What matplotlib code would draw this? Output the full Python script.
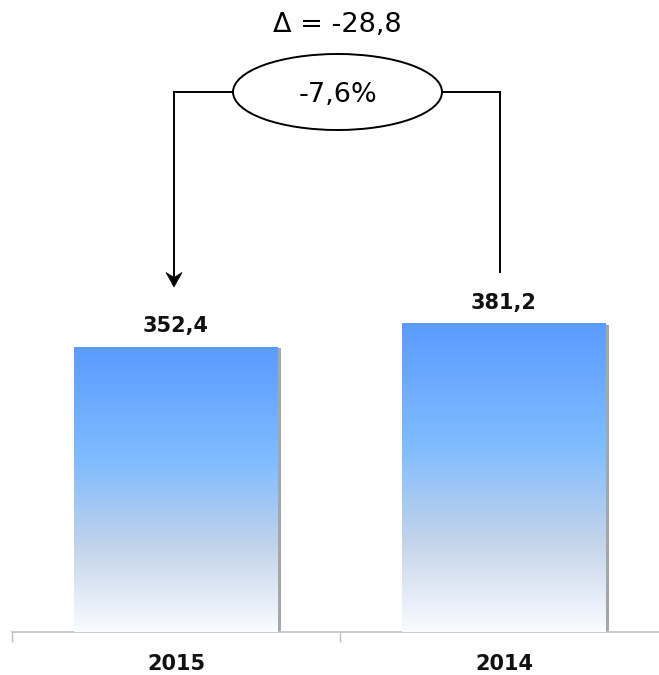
import matplotlib
matplotlib.use("Agg")
import matplotlib.pyplot as plt
import numpy as np
from matplotlib.colors import LinearSegmentedColormap
from matplotlib.patches import Ellipse, Polygon
import matplotlib.patheffects as pe
import matplotlib.transforms as mtransforms

categories = ["2015", "2014"]
values = [352.4, 381.2]
value_labels = ["352,4", "381,2"]
delta_label = "\u0394 = -28,8"
pct_label = "-7,6%"

W, H, DPI = 659, 675, 100
fig = plt.figure(figsize=(W / DPI, H / DPI), dpi=DPI)
base_px = 632
x0_px, x1_px = 12, 668
ax = fig.add_axes([x0_px / W, (H - base_px) / H, (x1_px - x0_px) / W, base_px / H])
ymax = base_px / 0.808
ax.set_xlim(-0.5, 1.5)
ax.set_ylim(0, ymax)

cmap = LinearSegmentedColormap.from_list(
    "grad",
    [(0.0, "#5b9bff"), (0.40, "#80bcff"), (0.70, "#c2d3ea"), (1.0, "#fafcff")],
)
grad = np.linspace(0, 1, 256).reshape(-1, 1)

x = np.arange(len(categories))
bars = ax.bar(x, values, width=0.62, color="white", edgecolor="none", zorder=2)
for b in bars:
    b.set_path_effects([pe.SimplePatchShadow(offset=(2.5, -0.5), shadow_rgbFace="#808080", alpha=0.7), pe.Normal()])
    bx, bw, bh = b.get_x(), b.get_width(), b.get_height()
    ax.imshow(grad, cmap=cmap, extent=(bx, bx + bw, 0, bh), aspect="auto",
              origin="upper", zorder=3, interpolation="bilinear")
ax.set_xlim(-0.5, 1.5)
ax.set_ylim(0, ymax)

for xi, v, lab in zip(x, values, value_labels):
    ax.annotate(lab, (xi, v), xytext=(0, 8), textcoords="offset points",
                ha="center", va="bottom", fontsize=15, fontweight="bold", color="#111111")

# axis styling
for s in ["top", "right", "left"]:
    ax.spines[s].set_visible(False)
ax.spines["bottom"].set_color("#c0c0c0")
ax.spines["bottom"].set_linewidth(1.2)
ax.set_yticks([])
ax.set_xticks(x)
ax.set_xticklabels(categories, fontsize=15, fontweight="bold", color="#111111")
ax.tick_params(axis="x", which="major", length=0, pad=16)
ax.set_xticks([-0.5, 0.5, 1.5], minor=True)
ax.tick_params(axis="x", which="minor", length=7, color="#c0c0c0", width=1)

# annotation: ellipse + connectors
def px2x(px):
    return -0.5 + (px - x0_px) / ((x1_px - x0_px) / 2)

def py2y(py):
    return (base_px - py) / 0.808

yh = py2y(92)
ex, ew, eh = px2x(337.5), (209) / 328, 76 / 0.808
lx, rx = px2x(174), px2x(500)
tip_y = py2y(287)
ax.add_patch(Ellipse((ex, yh), ew, eh, facecolor="white", edgecolor="black", lw=1.4,
                     zorder=5, clip_on=False))
ax.plot([lx, ex - ew / 2], [yh, yh], color="black", lw=1.4, zorder=4, clip_on=False)
ax.plot([ex + ew / 2, rx], [yh, yh], color="black", lw=1.4, zorder=4, clip_on=False)
ax.plot([rx, rx], [yh, py2y(272)], color="black", lw=1.4, zorder=4, clip_on=False)
ax.plot([lx, lx], [yh, py2y(278)], color="black", lw=1.4, zorder=4, clip_on=False)
# stealth arrow head, sized in inches relative to its tip
trans = fig.dpi_scale_trans + mtransforms.ScaledTranslation(lx, tip_y, ax.transData)
head = Polygon([(0, 0), (-0.08, 0.145), (0, 0.095), (0.08, 0.145)], closed=True,
               facecolor="black", edgecolor="black", lw=0.5, transform=trans,
               zorder=4, clip_on=False)
ax.add_patch(head)
ax.text(ex, py2y(95), pct_label, ha="center", va="center", fontsize=19.5, zorder=6)
ax.text(px2x(337), py2y(25), delta_label, ha="center", va="center", fontsize=19.5)

fig.savefig("out.png", dpi=DPI)
